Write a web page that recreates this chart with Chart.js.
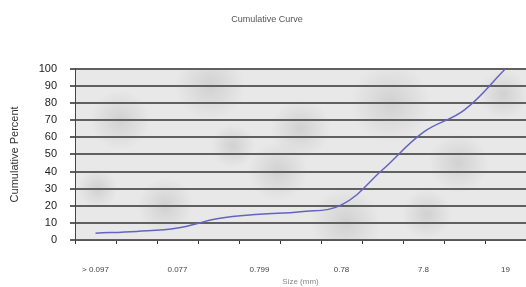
<!DOCTYPE html>
<html>
<head>
<meta charset="utf-8">
<script src="https://cdn.jsdelivr.net/npm/chart.js@4"></script>
<style>
  html, body { margin: 0; padding: 0; background: #fff; }
  canvas { display: block; }
</style>
</head>
<body>
<canvas id="chartCumul" width="526" height="287"></canvas>
<script>
const categories = ['> 0.097', '0.088', '0.077', '0.150', '0.799', '0.350', '0.78', '1.5', '7.8', '12', '19'];
const cumulPercent = [4, 5, 7, 12.5, 15, 16.5, 20.5, 41, 63, 76, 100];
const yTicks = [0, 10, 20, 30, 40, 50, 60, 70, 80, 90, 100];

// fond marbré approximatif dans la zone du graphique
const fondMarbre = {
  id: 'fondMarbre',
  beforeDraw(chart) {
    const { ctx, chartArea: a } = chart;
    ctx.save();
    ctx.fillStyle = '#e8e8e8';
    ctx.fillRect(a.left, a.top, a.right - a.left, a.bottom - a.top);
    const taches = [
      [0.1, 0.3, 30], [0.3, 0.1, 35], [0.45, 0.6, 30], [0.7, 0.2, 40],
      [0.85, 0.55, 30], [0.2, 0.8, 28], [0.6, 0.9, 35], [0.95, 0.15, 25], [0.5, 0.35, 30],
      [0.05, 0.7, 20], [0.35, 0.45, 22], [0.78, 0.85, 25]
    ];
    taches.forEach(([fx, fy, r]) => {
      const x = a.left + fx * (a.right - a.left);
      const y = a.top + fy * (a.bottom - a.top);
      const g = ctx.createRadialGradient(x, y, 0, x, y, r);
      g.addColorStop(0, 'rgba(140,140,140,0.25)');
      g.addColorStop(1, 'rgba(140,140,140,0)');
      ctx.fillStyle = g;
      ctx.fillRect(a.left, a.top, a.right - a.left, a.bottom - a.top);
    });
    ctx.restore();
  }
};

new Chart(document.getElementById('chartCumul'), {
  type: 'line',
  data: {
    labels: categories,
    datasets: [{
      data: cumulPercent,
      borderColor: '#6464c0',
      borderWidth: 1.5,
      tension: 0.4,
      pointRadius: 0,
      fill: false
    }]
  },
  options: {
    responsive: false,
    animation: false,
    layout: { padding: { top: 0, right: 0, left: 8, bottom: 0 } },
    plugins: {
      legend: { display: false },
      tooltip: { enabled: false },
      title: {
        display: true,
        text: 'Cumulative Curve',
        color: '#555',
        font: { family: 'Arial, Liberation Sans', size: 9, weight: 'normal' },
        padding: { top: 14, bottom: 44 }
      }
    },
    scales: {
      x: {
        offset: true,
        grid: { offset: true, drawOnChartArea: false, color: '#333', tickLength: 4 },
        border: { color: '#555' },
        ticks: {
          autoSkip: false,
          maxRotation: 0,
          color: '#444',
          font: { family: 'Arial, Liberation Sans', size: 8 },
          padding: 21,
          callback: (v, i) => (i % 2 === 0 ? categories[i] : '')
        },
        title: {
          display: true,
          text: 'Size (mm)',
          color: '#888',
          font: { family: 'Arial, Liberation Sans', size: 8 },
          padding: { top: 2, bottom: 0 }
        },
        afterFit: (s) => { s.height = 47; s.paddingLeft = 0; s.paddingRight = 0; }
      },
      y: {
        min: 0,
        max: 100,
        afterBuildTicks: (s) => { s.ticks = yTicks.map(v => ({ value: v })); },
        grid: { color: '#606060', lineWidth: 2, tickLength: 5 },
        border: { color: '#444' },
        ticks: {
          color: '#222',
          font: { family: 'Arial, Liberation Sans', size: 11 },
          padding: 13
        },
        title: {
          display: true,
          text: 'Cumulative Percent',
          color: '#333',
          font: { family: 'Arial, Liberation Sans', size: 11 },
          padding: { top: 0, bottom: 4 }
        },
        afterFit: (s) => { s.width = 67; }
      }
    }
  },
  plugins: [fondMarbre]
});
</script>
</body>
</html>
